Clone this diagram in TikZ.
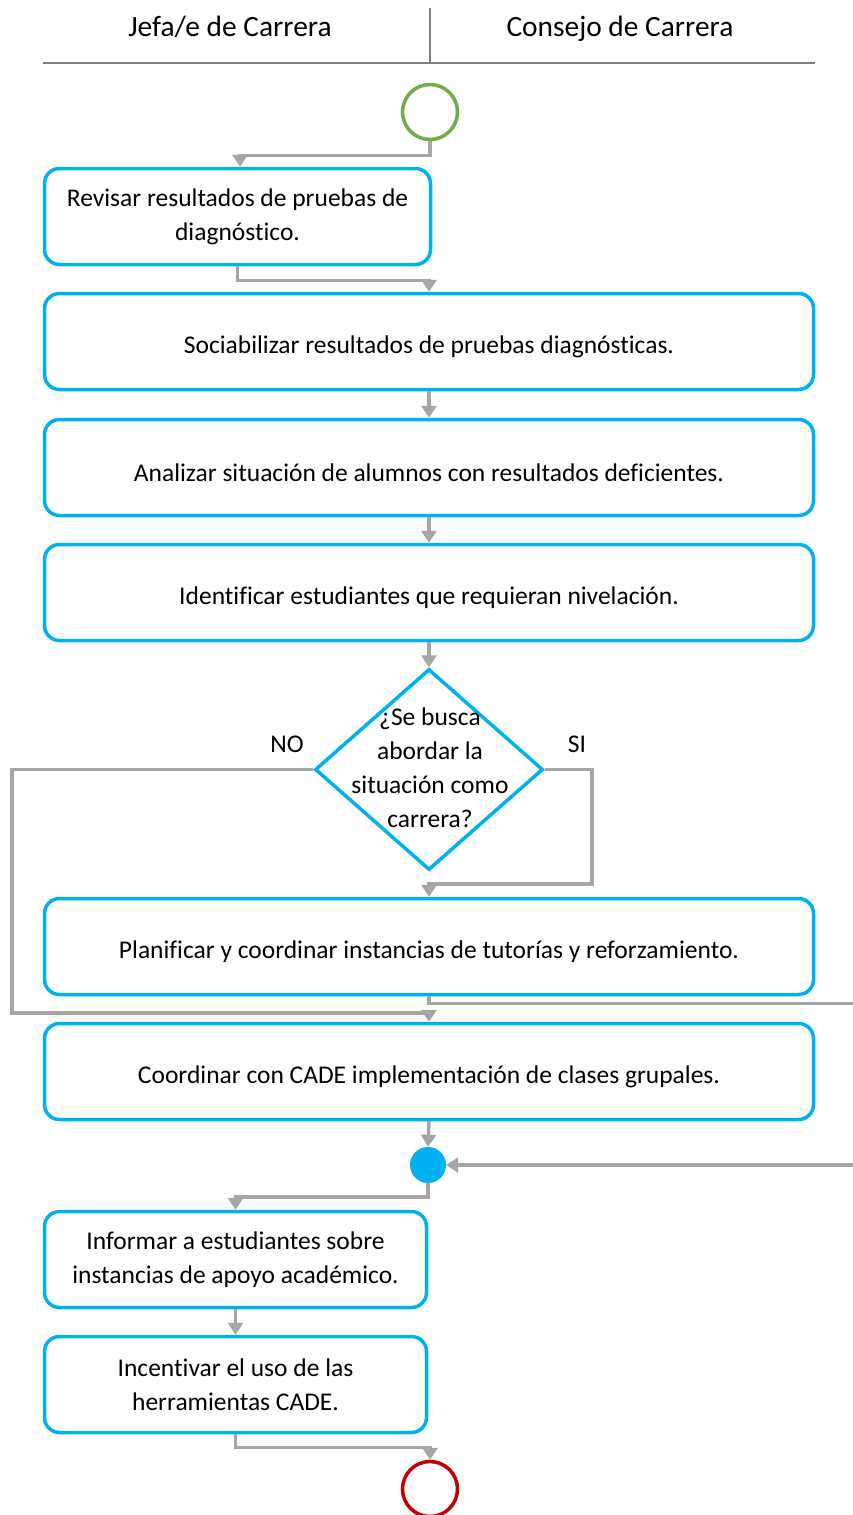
\documentclass[tikz,border=0pt]{standalone}
\usepackage{fontspec}
\setmainfont{Carlito}[Ligatures={NoCommon}]
\usetikzlibrary{arrows.meta,shapes.geometric}
\definecolor{boxblue}{HTML}{00B0F0}
\definecolor{startgreen}{HTML}{70AD47}
\definecolor{endred}{HTML}{C00000}
\definecolor{conngray}{HTML}{A6A6A6}
\definecolor{headgray}{HTML}{7F7F7F}
\tikzset{
  stepbox/.style={draw=boxblue, line width=3.5pt, rounded corners=15pt, align=center,
    font=\fontsize{25.5}{34}\selectfont, inner sep=0pt,
    execute at begin node={\rule{0pt}{29pt}}},
  widebox/.style={stepbox, minimum width=769pt, minimum height=96pt},
  narrowbox/.style={stepbox, minimum width=386pt, minimum height=96pt},
  conn/.style={draw=conngray, line width=3.5pt, -{Triangle[length=12pt,width=15pt]}},
  plainconn/.style={draw=conngray, line width=3.5pt},
  lbl/.style={font=\fontsize{25.5}{34}\selectfont, inner sep=0pt},
  headtxt/.style={font=\fontsize{29.4}{34}\selectfont, inner sep=0pt, anchor=base},
}
\begin{document}
\begin{tikzpicture}[x=1pt,y=-1pt]
\useasboundingbox (0,0) rectangle (853,1515);
% header
\node[headtxt] (h1) at (230,36) {Jefa/e de Carrera};
\node[headtxt] (h2) at (620,36) {Consejo de Carrera};
\draw[headgray, line width=2pt] (430,8) -- (430,63);
\draw[headgray, line width=2pt] (43,63) -- (815,63);
% nodes
\node[draw=startgreen, line width=3.5pt, circle, minimum size=55pt, inner sep=0pt] (start) at (430,112) {};
\node[narrowbox] (b1) at (237.5,216.5) {Revisar resultados de pruebas de\\diagnóstico.};
\node[widebox] (b2) at (429,341.5) {Sociabilizar resultados de pruebas diagnósticas.};
\node[widebox] (b3) at (429,467.5) {Analizar situación de alumnos con resultados deficientes.};
\node[widebox] (b4) at (429,592.5) {Identificar estudiantes que requieran nivelación.};
\node[draw=boxblue, line width=3.5pt, diamond, minimum width=228pt, minimum height=201pt, inner sep=0pt] (dia) at (429,769.5) {};
\node[lbl, align=center] (diatext) at (430,768) {¿Se busca\\abordar la\\situación como\\carrera?};
\node[lbl] (no) at (287,744) {NO};
\node[lbl] (si) at (577,744) {SI};
\node[widebox] (b5) at (429,946.5) {Planificar y coordinar instancias de tutorías y reforzamiento.};
\node[widebox] (b6) at (429,1071.5) {Coordinar con CADE implementación de clases grupales.};
\node[circle, fill=boxblue, minimum size=36pt, inner sep=0pt] (merge) at (428,1165) {};
\node[narrowbox, minimum width=382pt] (b7) at (235.5,1259.5) {Informar a estudiantes sobre\\instancias de apoyo académico.};
\node[narrowbox, minimum width=382pt] (b8) at (235.5,1384.5) {Incentivar el uso de las\\herramientas CADE.};
\node[draw=endred, line width=3.5pt, circle, minimum size=55pt, inner sep=0pt] (end) at (430,1489) {};
% coordinates
\coordinate (noturn) at (12,1013);
\coordinate (siturn) at (592,884);
\coordinate (offA) at (853,1003);
\coordinate (offB) at (853,1165);
% connectors
\draw[conn] (start.south) -- ++(0,14) -| (b1.north -| 240,0);
\draw[conn] (b1.south) -- ++(0,14) -| (b2.north);
\draw[conn] (b2.south) -- (b3.north);
\draw[conn] (b3.south) -- (b4.north);
\draw[conn] (b4.south) -- (dia.north);
\draw[conn] (dia.west) -| (noturn) -| (b6.north);
\draw[conn] (dia.east) -| (siturn) -| (b5.north);
\draw[plainconn] (b5.south) -- ++(0,7) -| (offA);
\draw[conn] (b6.south) -- (merge.north);
\draw[conn] (offB) -- (merge.east);
\draw[conn] (merge.south) -- ++(0,14) -| (b7.north);
\draw[conn] (b7.south) -- (b8.north);
\draw[conn] (b8.south) -- ++(0,13) -| (end.north);
\end{tikzpicture}
\end{document}
